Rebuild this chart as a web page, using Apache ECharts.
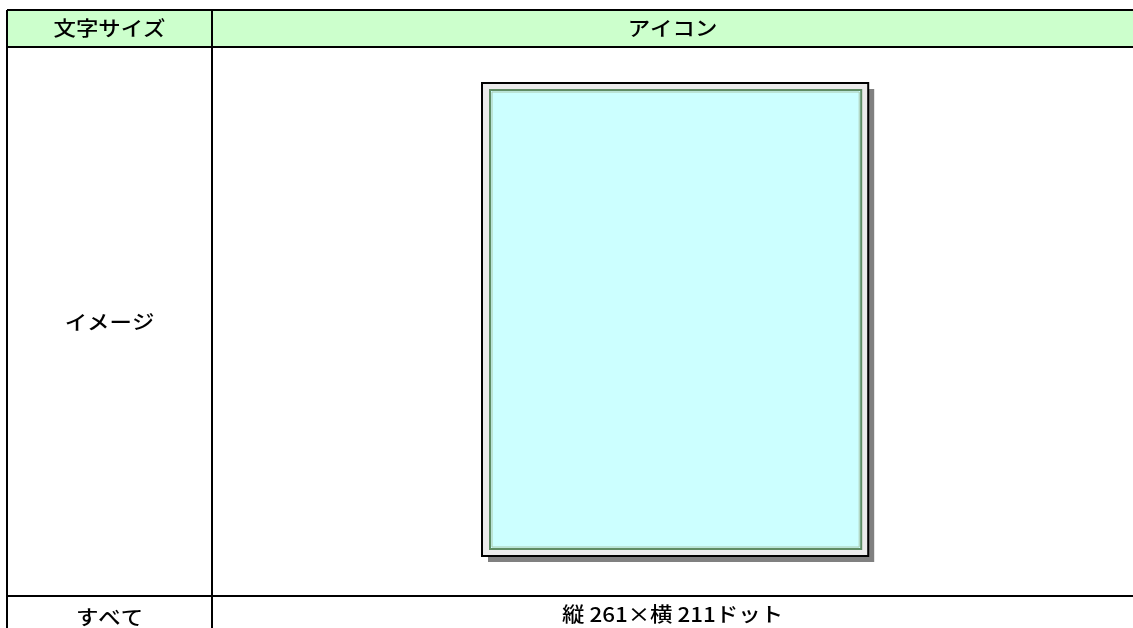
<!DOCTYPE html>
<html><head><meta charset="utf-8">
<script src="https://cdn.jsdelivr.net/npm/echarts@6/dist/echarts.min.js"></script>
<style>html,body{margin:0;padding:0;background:#fff}#c{width:1133px;height:628px}</style>
</head><body><div id="c"></div>
<script>
const headers = ['文字サイズ', 'アイコン'];
const rowLabels = ['イメージ', 'すべて'];
const iconSize = [261, 211]; // 縦, 横 (dots)
const sizeText = '縦 ' + iconSize[0] + '×横 ' + iconSize[1] + 'ドット';

const chart = echarts.init(document.getElementById('c'), null, {renderer: 'canvas'});
const FONT = '"Noto Sans CJK JP", "Noto Sans", sans-serif';
const L = 7, D = 212, R = 1140, T = 10, H1 = 47, H2 = 596, B = 660;
const c1 = (L + D) / 2, c2 = (D + 1133) / 2;

function label(txt, x, y) {
  return {type: 'text', x: x, y: y, scaleX: 1.12, scaleY: 1,
    style: {text: txt, x: 0, y: 0, align: 'center', verticalAlign: 'middle',
      font: '500 20px ' + FONT, fill: '#000'}};
}
function line(x1, y1, x2, y2) {
  return {type: 'line', shape: {x1, y1, x2, y2}, style: {stroke: '#000', lineWidth: 2}};
}

// icon frame scaled from its dot size
const scale = 473 / iconSize[0];
const iw = iconSize[1] * scale * 1.01, ih = iconSize[0] * scale;
const ix = 482, iy = 83;

chart.setOption({
  animation: false,
  graphic: [
    {type: 'rect', shape: {x: L, y: T, width: R - L, height: H1 - T}, style: {fill: '#CCFFCC'}},
    line(L, T, R, T), line(L, H1, R, H1), line(L, H2, R, H2),
    line(L, T, L, B), line(D, T, D, B),
    label(headers[0], c1, 28), label(headers[1], c2, 28),
    label(rowLabels[0], c1, 322), label(rowLabels[1], c1, 617),
    label(sizeText, c2, 614),
    // shadow
    {type: 'rect', shape: {x: ix + 6, y: iy + 6, width: iw, height: ih}, style: {fill: '#808080'}},
    // outer frame
    {type: 'rect', shape: {x: ix, y: iy, width: iw, height: ih}, style: {fill: '#EBEBEB', stroke: '#000', lineWidth: 2}},
    // inner panel
    {type: 'rect', shape: {x: ix + 8, y: iy + 7, width: iw - 15, height: ih - 14}, style: {fill: '#CCFFFF', stroke: '#5E8C64', lineWidth: 2}},
    {type: 'rect', shape: {x: ix + 10, y: iy + 9, width: iw - 19, height: ih - 18}, style: {fill: 'none', stroke: '#A9C8AE', lineWidth: 1}}
  ]
});
</script></body></html>
